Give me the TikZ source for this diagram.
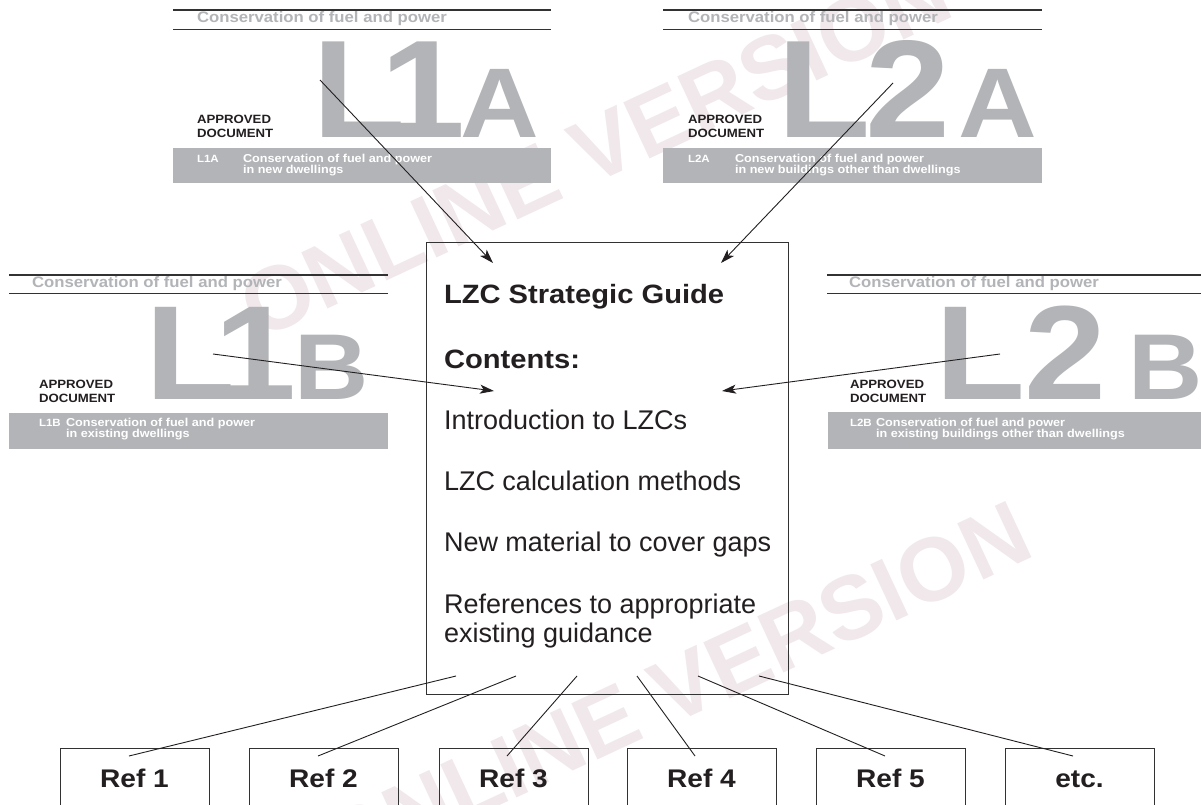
\documentclass[tikz,border=0pt]{standalone}
\usepackage{fontspec}
\setmainfont{Liberation Sans}[BoldFeatures={FakeStretch=1.1}]
\newfontfamily\wmfont{Liberation Sans Bold}
\usetikzlibrary{arrows.meta}
\definecolor{covgray}{RGB}{178,180,183}
\definecolor{ink}{RGB}{35,31,32}
\definecolor{rule}{RGB}{50,50,50}
\definecolor{wmark}{RGB}{240,232,234}
\tikzset{
  base/.style={inner sep=0pt, outer sep=0pt, anchor=base west},
  covtitle/.style={base, text=covgray, font=\bfseries\fontsize{15.2}{18}\selectfont},
  approved/.style={base, text=ink, font=\bfseries\fontsize{12}{14}\selectfont},
  bartxt/.style={base, text=white, font=\bfseries\fontsize{11.5}{13}\selectfont},
  barcode/.style={base, text=white, font=\bfseries\fontsize{10.5}{13}\selectfont},
  bigA/.style={base, text=covgray, font=\bfseries\fontsize{139}{139}\selectfont},
  smallA/.style={base, text=covgray, font=\bfseries\fontsize{99}{99}\selectfont},
  bigB/.style={base, text=covgray, font=\bfseries\fontsize{134}{134}\selectfont},
  smallB/.style={base, text=covgray, font=\bfseries\fontsize{93.5}{94}\selectfont},
  rulestyle/.style={draw=rule, line width=1.2pt},
  bar/.style={fill=covgray, draw=none},
  headtxt/.style={base, text=ink, font=\bfseries\fontsize{26.5}{30}\selectfont},
  bodytxt/.style={base, text=ink, font=\fontsize{27}{30}\selectfont},
  guidebox/.style={draw=rule, line width=1.1pt, anchor=north west, minimum width=362pt, minimum height=452pt, inner sep=0pt},
  refbox/.style={draw=rule, line width=1.1pt, anchor=north west, minimum width=149pt, minimum height=90pt, inner sep=0pt},
  reflabel/.style={inner sep=0pt, anchor=base, text=ink, font=\bfseries\fontsize{25.5}{30}\selectfont},
  conn/.style={draw=ink, line width=0.9pt},
  arr/.style={conn, -{Stealth[length=14pt,width=9pt,inset=3.5pt]}},
  wm/.style={inner sep=0pt, text=wmark, rotate=25, font=\wmfont\fontsize{90}{90}\selectfont}
}
\begin{document}
\begin{tikzpicture}[x=1pt,y=-1pt]
\useasboundingbox (0,0) rectangle (1201,805);
\clip (0,0) rectangle (1201,805);
\fill[white] (0,0) rectangle (1201,805);

% watermarks
\node[wm] (wm1) at (595,150) {ONLINE VERSION};
\node[wm] (wm2) at (675,690) {ONLINE VERSION};

% ---------- L1A cover ----------
\draw[rulestyle] (173,10) -- (551,10);
\draw[rulestyle] (173,29.5) -- (551,29.5);
\node[covtitle] (t1a) at (197,23) {Conservation of fuel and power};
\node[bigA] (l1aL) at (312,138) {L};
\node[bigA] (l1a1) at (380,138) {1};
\node[smallA] (l1aA) at (460,138) {A};
\node[approved] (ap1a) at (197,124) {APPROVED};
\node[approved] (dc1a) at (197,138) {DOCUMENT};
\fill[bar] (173,148) rectangle (551,183);
\node[barcode] (c1a) at (197,163) {L1A};
\node[bartxt] (d1a) at (243,163) {Conservation of fuel and power};
\node[bartxt] (e1a) at (243,174) {in new dwellings};

% ---------- L2A cover ----------
\draw[rulestyle] (663,10) -- (1042,10);
\draw[rulestyle] (663,29.5) -- (1042,29.5);
\node[covtitle] (t2a) at (688,23) {Conservation of fuel and power};
\node[bigA] (l2aL) at (777,138) {L};
\node[bigA] (l2a2) at (865,138) {2};
\node[smallA] (l2aA) at (958,138) {A};
\node[approved] (ap2a) at (688,124) {APPROVED};
\node[approved] (dc2a) at (688,138) {DOCUMENT};
\fill[bar] (663,148) rectangle (1042,183);
\node[barcode] (c2a) at (688,163) {L2A};
\node[bartxt] (d2a) at (735,163) {Conservation of fuel and power};
\node[bartxt] (e2a) at (735,174) {in new buildings other than dwellings};

% ---------- L1B cover ----------
\draw[rulestyle] (9,275) -- (388,275);
\draw[rulestyle] (9,293.5) -- (388,293.5);
\node[covtitle] (t1b) at (32,287) {Conservation of fuel and power};
\node[bigB] (l1bL) at (145,399) {L};
\node[bigB] (l1b1) at (214,399) {1};
\node[smallB] (l1bB) at (294.5,399) {B};
\node[approved] (ap1b) at (39,388) {APPROVED};
\node[approved] (dc1b) at (39,402) {DOCUMENT};
\fill[bar] (9,413) rectangle (388,449);
\node[barcode] (c1b) at (39,426) {L1B};
\node[bartxt] (d1b) at (66,426) {Conservation of fuel and power};
\node[bartxt] (e1b) at (66,437) {in existing dwellings};

% ---------- L2B cover ----------
\draw[rulestyle] (827,275) -- (1210,275);
\draw[rulestyle] (827,293.5) -- (1210,293.5);
\node[covtitle] (t2b) at (849,287) {Conservation of fuel and power};
\node[bigB] (l2bL) at (935,399) {L};
\node[bigB] (l2b2) at (1024,399) {2};
\node[smallB] (l2bB) at (1128,399) {B};
\node[approved] (ap2b) at (850,388) {APPROVED};
\node[approved] (dc2b) at (850,402) {DOCUMENT};
\fill[bar] (828,412) rectangle (1210,449);
\node[barcode] (c2b) at (850,426) {L2B};
\node[bartxt] (d2b) at (876,426) {Conservation of fuel and power};
\node[bartxt] (e2b) at (876,437) {in existing buildings other than dwellings};

% ---------- central guide ----------
\node[guidebox] (guide) at (426,242) {};
\node[headtxt] (g1) at (444,303) {LZC Strategic Guide};
\node[headtxt] (g2) at (444,368) {Contents:};
\node[bodytxt] (g3) at (444,429) {Introduction to LZCs};
\node[bodytxt] (g4) at (444,490) {LZC calculation methods};
\node[bodytxt] (g5) at (444,551) {New material to cover gaps};
\node[bodytxt] (g6) at (444,613) {References to appropriate};
\node[bodytxt] (g7) at (444,642) {existing guidance};

% ---------- reference boxes ----------
\node[refbox] (r1) at (60,748) {};
\node[refbox] (r2) at (249,748) {};
\node[refbox] (r3) at (439,748) {};
\node[refbox] (r4) at (627,748) {};
\node[refbox] (r5) at (816,748) {};
\node[refbox] (r6) at (1005,748) {};
\node[reflabel] (r1t) at (134.5,787) {Ref 1};
\node[reflabel] (r2t) at (323.5,787) {Ref 2};
\node[reflabel] (r3t) at (513.5,787) {Ref 3};
\node[reflabel] (r4t) at (701.5,787) {Ref 4};
\node[reflabel] (r5t) at (890.5,787) {Ref 5};
\node[reflabel] (r6t) at (1079.5,787) {etc.};

% ---------- arrow end points ----------
\coordinate (s1a) at (320,80);
\coordinate (s2a) at (893,83);
\coordinate (s1b) at (213,354);
\coordinate (s2b) at (1000,354);
\coordinate (p1a) at (493,263);
\coordinate (p2a) at (721,263);
\coordinate (p1b) at (494,391);
\coordinate (p2b) at (722,391);
\draw[arr] (s1a) -- (p1a);
\draw[arr] (s2a) -- (p2a);
\draw[arr] (s1b) -- (p1b);
\draw[arr] (s2b) -- (p2b);

% ---------- connectors to references ----------
\coordinate (b1) at (456,676);
\coordinate (b2) at (516,676);
\coordinate (b3) at (577,676);
\coordinate (b4) at (637,676);
\coordinate (b5) at (698,676);
\coordinate (b6) at (759,676);
\coordinate (q1) at (129,756);
\coordinate (q2) at (318,756);
\coordinate (q3) at (507,756);
\coordinate (q4) at (695,756);
\coordinate (q5) at (885,756);
\coordinate (q6) at (1073,756);
\draw[conn] (b1) -- (q1);
\draw[conn] (b2) -- (q2);
\draw[conn] (b3) -- (q3);
\draw[conn] (b4) -- (q4);
\draw[conn] (b5) -- (q5);
\draw[conn] (b6) -- (q6);
\end{tikzpicture}
\end{document}
